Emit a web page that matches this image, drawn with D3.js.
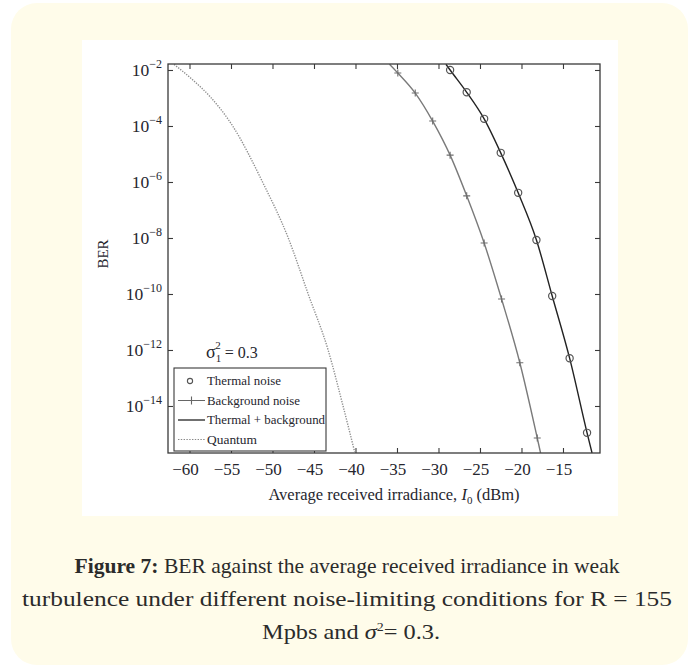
<!DOCTYPE html>
<html>
<head>
<meta charset="utf-8">
<script src="https://cdn.jsdelivr.net/npm/d3@7"></script>
<style>
  html, body { margin: 0; padding: 0; background: #fff; }
  svg { display: block; }
</style>
</head>
<body>
<svg id="chart" width="693" height="667"></svg>
<script>
// data (x in dBm, y = BER)
const thermalX = [-28.6, -26.6, -24.5, -22.5, -20.4, -18.2, -16.3, -14.2, -12.1];
const thermalY = [1.0e-2, 1.6e-3, 1.8e-4, 1.1e-5, 4.1e-7, 8.5e-9, 8.5e-11, 5.1e-13, 1.1e-15];

const combinedX = [-29.1, -28.6, -26.6, -24.5, -22.5, -20.4, -18.2, -16.3, -14.2, -12.1, -11.5];
const combinedY = [1.6e-2, 1.0e-2, 1.6e-3, 1.8e-4, 1.1e-5, 4.1e-7, 8.5e-9, 8.5e-11, 5.1e-13, 1.1e-15, 2.1e-16];

const backgroundX = [-35.9, -34.9, -32.8, -30.7, -28.6, -26.6, -24.5, -22.4, -20.2, -18.1, -17.7];
const backgroundY = [1.6e-2, 7.8e-3, 1.5e-3, 1.5e-4, 9.1e-6, 3.2e-7, 6.6e-9, 6.6e-11, 3.5e-13, 7.2e-16, 2.1e-16];
const backgroundMarkX = [-34.9, -32.8, -30.7, -28.6, -26.6, -24.5, -22.4, -20.2, -18.1];
const backgroundMarkY = [7.8e-3, 1.5e-3, 1.5e-4, 9.1e-6, 3.2e-7, 6.6e-9, 6.6e-11, 3.5e-13, 7.2e-16];

const quantumX = [-62.1, -59.6, -57.5, -54.8, -51.2, -48.1, -45.7, -43.3, -41.5, -40.1];
const quantumY = [1.8e-2, 4.4e-3, 1.1e-3, 1e-4, 1e-6, 1e-8, 1e-10, 1e-12, 1e-14, 2.3e-16];

const xTicks = [-60, -55, -50, -45, -40, -35, -30, -25, -20, -15];
const yTickExp = [-2, -4, -6, -8, -10, -12, -14];

const legendItems = ['Thermal noise', 'Background noise', 'Thermal + background', 'Quantum'];
const captionLines = [
  'BER against the average received irradiance in weak',
  'turbulence under different noise-limiting conditions for R = 155'
];

const svg = d3.select('#chart');
const serif = '"Liberation Serif", "DejaVu Serif", serif';

// page background: pale yellow rounded card with white figure panel
svg.append('rect')
  .attr('x', 11).attr('y', 3).attr('width', 677).attr('height', 662)
  .attr('rx', 26).attr('fill', '#fffcea');
svg.append('rect')
  .attr('x', 82).attr('y', 40).attr('width', 536).attr('height', 476)
  .attr('fill', '#fff');

const plot = { left: 168, top: 64, right: 600, bottom: 453 };

const x = d3.scaleLinear().domain([-62.59, -10.54]).range([plot.left, plot.right]);
const y = d3.scaleLog().domain([Math.pow(10, -15.679), Math.pow(10, -1.786)]).range([plot.bottom, plot.top]);

const g = svg.append('g');
const frameColor = '#3a3a3a';
const textColor = '#26262e';

// axes with inward ticks
const tickLen = 5;
g.append('g').attr('transform', `translate(0,${plot.bottom})`)
  .call(d3.axisBottom(x).tickValues(xTicks).tickSize(-tickLen).tickFormat(''))
  .call(a => a.select('.domain').remove());
g.append('g').attr('transform', `translate(0,${plot.top})`)
  .call(d3.axisTop(x).tickValues(xTicks).tickSize(-tickLen).tickFormat(''))
  .call(a => a.select('.domain').remove());
const yVals = yTickExp.map(e => Math.pow(10, e));
g.append('g').attr('transform', `translate(${plot.left},0)`)
  .call(d3.axisLeft(y).tickValues(yVals).tickSize(-tickLen).tickFormat(''))
  .call(a => a.select('.domain').remove());
g.append('g').attr('transform', `translate(${plot.right},0)`)
  .call(d3.axisRight(y).tickValues(yVals).tickSize(-tickLen).tickFormat(''))
  .call(a => a.select('.domain').remove());
g.selectAll('.tick line').attr('stroke', frameColor).attr('stroke-width', 1.1);

// x tick labels
g.selectAll('.xlab').data(xTicks).join('text')
  .attr('x', d => x(d) - 4).attr('y', plot.bottom + 22)
  .attr('text-anchor', 'middle')
  .attr('font-family', serif).attr('font-size', 17).attr('fill', textColor)
  .text(d => '\u2212' + Math.abs(d));

// y tick labels 10^e
yTickExp.forEach(e => {
  const t = g.append('text')
    .attr('x', plot.left - 6).attr('y', y(Math.pow(10, e)) + 6)
    .attr('text-anchor', 'end')
    .attr('font-family', serif).attr('fill', textColor);
  t.append('tspan').attr('font-size', 17.5).text('10');
  t.append('tspan').attr('font-size', 12).attr('dy', -8).text('\u2212' + Math.abs(e));
});

// axis titles
g.append('text')
  .attr('transform', `translate(108,254) rotate(-90)`)
  .attr('text-anchor', 'middle')
  .attr('font-family', serif).attr('font-size', 15).attr('fill', textColor)
  .text('BER');
const xt = g.append('text')
  .attr('x', 394).attr('y', 500)
  .attr('text-anchor', 'middle')
  .attr('font-family', serif).attr('font-size', 16.5).attr('fill', textColor);
xt.append('tspan').text('Average received irradiance, ');
xt.append('tspan').attr('font-style', 'italic').text('I');
xt.append('tspan').attr('font-size', 11).attr('dy', 4).text('0');
xt.append('tspan').attr('dy', -4).text(' (dBm)');

// curves
svg.append('clipPath').attr('id', 'plotclip')
  .append('rect').attr('x', plot.left).attr('y', plot.top)
  .attr('width', plot.right - plot.left).attr('height', plot.bottom - plot.top);
const curves = g.append('g').attr('clip-path', 'url(#plotclip)');
const line = d3.line().x(d => x(d[0])).y(d => y(d[1])).curve(d3.curveMonotoneX);

curves.append('path')
  .datum(quantumX.map((v, i) => [v, quantumY[i]]))
  .attr('d', line).attr('fill', 'none')
  .attr('stroke', '#8f8f8f').attr('stroke-width', 1.4).attr('stroke-dasharray', '1.3,1.3');

curves.append('path')
  .datum(backgroundX.map((v, i) => [v, backgroundY[i]]))
  .attr('d', line).attr('fill', 'none')
  .attr('stroke', '#7a7a7a').attr('stroke-width', 1.4);

curves.append('path')
  .datum(combinedX.map((v, i) => [v, combinedY[i]]))
  .attr('d', line).attr('fill', 'none')
  .attr('stroke', '#222').attr('stroke-width', 1.4);

// background markers (+)
const plusSize = 3.5;
curves.selectAll('.plus').data(backgroundMarkX.map((v, i) => [v, backgroundMarkY[i]])).join('path')
  .attr('d', d => {
    const px = x(d[0]), py = y(d[1]);
    return `M${px - plusSize},${py}H${px + plusSize}M${px},${py - plusSize}V${py + plusSize}`;
  })
  .attr('stroke', '#6e6e6e').attr('stroke-width', 1.1);

// thermal markers (o)
curves.selectAll('.circ').data(thermalX.map((v, i) => [v, thermalY[i]])).join('circle')
  .attr('cx', d => x(d[0])).attr('cy', d => y(d[1])).attr('r', 3.6)
  .attr('fill', 'none').attr('stroke', '#555').attr('stroke-width', 1.2);

// frame
g.append('rect')
  .attr('x', plot.left).attr('y', plot.top)
  .attr('width', plot.right - plot.left).attr('height', plot.bottom - plot.top)
  .attr('fill', 'none').attr('stroke', frameColor).attr('stroke-width', 1.3);

// sigma annotation
const sig = g.append('text')
  .attr('x', 206).attr('y', 358)
  .attr('font-family', serif).attr('font-size', 18).attr('fill', textColor);
sig.append('tspan').text('\u03c3');
sig.append('tspan').attr('font-size', 11).attr('dy', 4).text('1');
sig.append('tspan').attr('font-size', 11).attr('dx', -6).attr('dy', -13).text('2');
sig.append('tspan').attr('dy', 9).attr('font-size', 16).text(' = 0.3');

// legend
const leg = g.append('g');
leg.append('rect')
  .attr('x', 174).attr('y', 368).attr('width', 152).attr('height', 83)
  .attr('fill', '#fff').attr('stroke', frameColor).attr('stroke-width', 1.1);
const legY = d => 381 + d * 19.5;
leg.selectAll('.lt').data(legendItems).join('text')
  .attr('x', 207).attr('y', (d, i) => legY(i) + 4)
  .attr('font-family', serif).attr('font-size', 12.5).attr('fill', textColor)
  .attr('textLength', (d, i) => [74, 93, 118, 50][i]).attr('lengthAdjust', 'spacingAndGlyphs')
  .text(d => d);
leg.append('circle').attr('cx', 190).attr('cy', legY(0)).attr('r', 2.6)
  .attr('fill', 'none').attr('stroke', '#555').attr('stroke-width', 1.1);
leg.append('path').attr('d', `M178,${legY(1)}H205M191.5,${legY(1) - 4}V${legY(1) + 4}`)
  .attr('stroke', '#666').attr('stroke-width', 1.1);
leg.append('path').attr('d', `M178,${legY(2)}H205`)
  .attr('stroke', '#222').attr('stroke-width', 1.3);
leg.append('path').attr('d', `M178,${legY(3)}H205`)
  .attr('stroke', '#888').attr('stroke-width', 1.1).attr('stroke-dasharray', '1.4,1.4');

// caption
const capFont = '"Liberation Serif", "DejaVu Serif", serif';
const c1 = svg.append('text')
  .attr('x', 347).attr('y', 573).attr('text-anchor', 'middle')
  .attr('font-family', capFont).attr('font-size', 21).attr('fill', '#2b2b2b')
  .attr('textLength', 545).attr('lengthAdjust', 'spacingAndGlyphs');
c1.append('tspan').attr('font-weight', 'bold').text('Figure 7:');
c1.append('tspan').text(' ' + captionLines[0]);
svg.append('text')
  .attr('x', 347).attr('y', 606).attr('text-anchor', 'middle')
  .attr('font-family', capFont).attr('font-size', 21).attr('fill', '#2b2b2b')
  .attr('textLength', 650).attr('lengthAdjust', 'spacingAndGlyphs')
  .text(captionLines[1]);
const c3 = svg.append('text')
  .attr('x', 351).attr('y', 639).attr('text-anchor', 'middle')
  .attr('font-family', capFont).attr('font-size', 21).attr('fill', '#2b2b2b')
  .attr('textLength', 178).attr('lengthAdjust', 'spacingAndGlyphs');
c3.append('tspan').text('Mpbs and ');
c3.append('tspan').attr('font-style', 'italic').text('\u03c3');
c3.append('tspan').attr('font-size', 12).attr('dy', -8).text('2');
c3.append('tspan').attr('dy', 8).text('= 0.3.');
</script>
</body>
</html>
